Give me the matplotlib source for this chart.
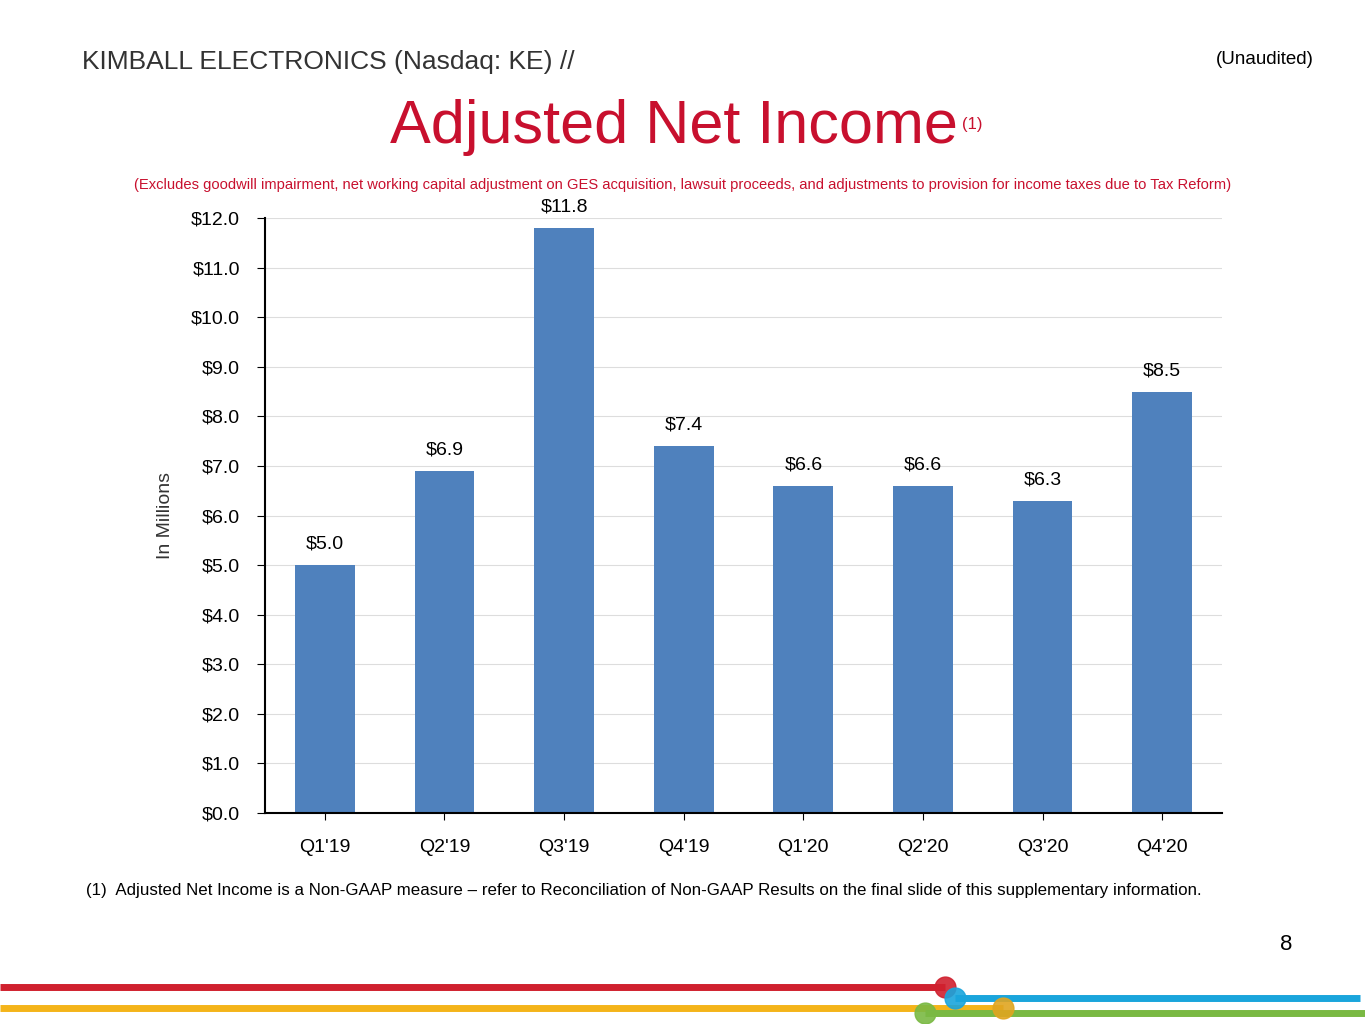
import matplotlib
matplotlib.use('Agg')
import matplotlib.pyplot as plt

quarters = ["Q1'19", "Q2'19", "Q3'19", "Q4'19", "Q1'20", "Q2'20", "Q3'20", "Q4'20"]
income = [5.0, 6.9, 11.8, 7.4, 6.6, 6.6, 6.3, 8.5]
yticks = [i * 1.0 for i in range(13)]

RED = '#C8102E'
BLUE = '#4F81BD'
plt.rcParams['font.family'] = ['Liberation Sans', 'DejaVu Sans']

fig = plt.figure(figsize=(13.65, 10.24), dpi=100)

# decoration layer in pixel coords
deco = fig.add_axes([0, 0, 1, 1])
deco.set_xlim(0, 1365); deco.set_ylim(1024, 0); deco.axis('off')
deco.plot([0, 945], [987, 987], color='#D0202E', lw=5, solid_capstyle='butt')
deco.plot([955, 1360], [998, 998], color='#1AA5DC', lw=5, solid_capstyle='butt')
deco.plot([0, 1003], [1008, 1008], color='#F4B41A', lw=5, solid_capstyle='butt')
deco.plot([925, 1365], [1013, 1013], color='#7AB943', lw=5, solid_capstyle='butt')
for x, y, c in [(945, 987, '#D0202E'), (955, 998, '#1AA5DC'), (1003, 1008, '#E0A520'), (925, 1013, '#7AB943')]:
    deco.plot(x, y, 'o', ms=15, color=c, alpha=0.9)

fig.text(82/1365, 1 - 62/1024, 'KIMBALL ELECTRONICS (Nasdaq: KE) //', fontsize=19,
         color='#333333', va='center')
fig.text(1314/1365, 1 - 59/1024, '(Unaudited)', fontsize=13.5, ha='right', va='center')
fig.text(958/1365, 1 - 127/1024, 'Adjusted Net Income', fontsize=44, color=RED,
         ha='right', va='center')
fig.text(962/1365, 1 - 124/1024, '(1)', fontsize=12, color=RED, va='center')
fig.text(683/1365, 1 - 185/1024,
         '(Excludes goodwill impairment, net working capital adjustment on GES acquisition, '
         'lawsuit proceeds, and adjustments to provision for income taxes due to Tax Reform)',
         fontsize=10.6, color=RED, ha='center', va='center')
fig.text(86/1365, 1 - 890/1024,
         '(1)  Adjusted Net Income is a Non-GAAP measure \u2013 refer to Reconciliation of '
         'Non-GAAP Results on the final slide of this supplementary information.',
         fontsize=12.2, va='center')
fig.text(1292/1365, 1 - 945/1024, '8', fontsize=16, ha='right', va='center')

ax = fig.add_axes([265/1365, 1 - 813/1024, 957/1365, 595/1024])
x = range(len(quarters))
bars = ax.bar(x, income, width=0.5, color=BLUE, zorder=2)
for xi, v in zip(x, income):
    ax.text(xi, v + 0.25, f'${v:.1f}', ha='center', va='bottom', fontsize=14)
ax.set_xlim(-0.5, len(quarters) - 0.5)
ax.set_ylim(0, 12)
ax.set_yticks(yticks)
ax.set_yticklabels([f'${v:.1f}' for v in yticks], fontsize=14)
ax.set_xticks(list(x))
ax.set_xticklabels(quarters, fontsize=14)
ax.tick_params(axis='x', pad=14, length=5)
ax.tick_params(axis='y', pad=12, length=6)
ax.grid(axis='y', color='#DDDDDD', lw=0.8, zorder=0)
ax.spines[['top', 'right']].set_visible(False)
ax.spines['left'].set_linewidth(1.5)
ax.spines['bottom'].set_linewidth(1.5)
ax.set_ylabel('In Millions', fontsize=14, labelpad=12, color='#333333')

fig.savefig('out.png', dpi=100)
